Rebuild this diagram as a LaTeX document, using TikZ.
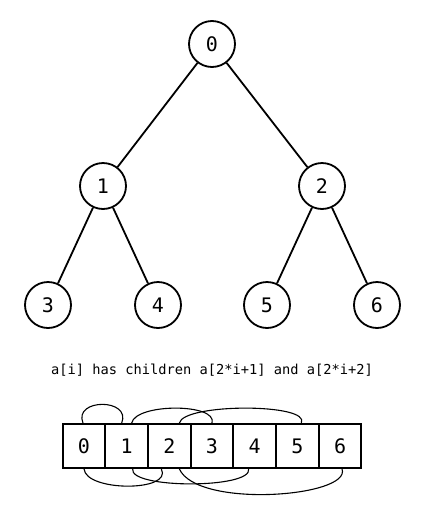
\documentclass[tikz,border=0pt]{standalone}
\usepackage{fontspec}
\setmonofont{DejaVu Sans Mono}
\begin{document}
\begin{tikzpicture}[x=1pt,y=-1pt,
  treenode/.style={circle,draw,line width=1.8pt,minimum size=46pt,inner sep=0pt,font=\ttfamily\fontsize{20}{20}\selectfont},
  edge/.style={line width=1.8pt},
  cell/.style={draw,line width=1.8pt,minimum width=42.7pt,minimum height=44pt,inner sep=0pt,font=\ttfamily\fontsize{20}{20}\selectfont},
  link/.style={line width=1.1pt}]
\useasboundingbox (0,0) rectangle (425,512);
\node[treenode] (n0) at (212,44) {0};
\node[treenode] (n1) at (103,186) {1};
\node[treenode] (n2) at (322,186) {2};
\node[treenode] (n3) at (48,305) {3};
\node[treenode] (n4) at (158,305) {4};
\node[treenode] (n5) at (267,305) {5};
\node[treenode] (n6) at (377,305) {6};
\draw[edge] (n0) -- (n1);
\draw[edge] (n0) -- (n2);
\draw[edge] (n1) -- (n3);
\draw[edge] (n1) -- (n4);
\draw[edge] (n2) -- (n5);
\draw[edge] (n2) -- (n6);
\node[font=\ttfamily\fontsize{13.7}{13.7}\selectfont] (txt) at (212,370) {a[i] has children a[2*i+1] and a[2*i+2]};
\foreach \i in {0,...,6} {
  \node[cell] (c\i) at (84+42.67*\i,446) {\i};
}
% top arcs: i -> 2i+1
\draw[link] ([xshift=-1pt]c0.north) .. controls +(-10,-25) and +(10,-25) .. ([xshift=-5pt]c1.north);
\draw[link] ([xshift=5pt]c1.north) .. controls +(4,-20) and +(6,-20) .. (c3.north);
\draw[link] ([xshift=10pt]c2.north) .. controls +(4,-20) and +(10,-20) .. ([xshift=4pt]c5.north);
% bottom arcs: i -> 2i+2
\draw[link] (c0.south) .. controls +(2,23) and +(12,23) .. ([xshift=-8pt]c2.south);
\draw[link] ([xshift=6pt]c1.south) .. controls +(-4,20) and +(4,20) .. ([xshift=-6pt]c4.south);
\draw[link] ([xshift=10pt]c2.south) .. controls +(18,40) and +(10,28) .. ([xshift=2pt]c6.south);
\end{tikzpicture}
\end{document}
